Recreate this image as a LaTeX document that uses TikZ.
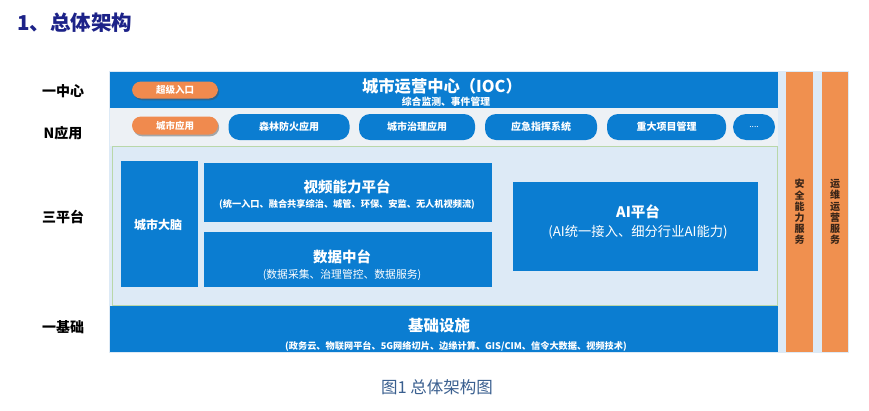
\documentclass[tikz,border=0pt]{standalone}
\usepackage{fontspec}
\setmainfont{Noto Sans CJK SC}
\usetikzlibrary{shadows}
\definecolor{mblue}{HTML}{0B7DD1}
\definecolor{morange}{HTML}{F08A4E}
\definecolor{colorange}{HTML}{F0904F}
\definecolor{lightbg}{HTML}{DDEAF6}
\definecolor{rowbg}{HTML}{EDF1F5}
\definecolor{gborder}{HTML}{B9D7A9}
\definecolor{navy}{HTML}{1C2288}
\definecolor{capblue}{HTML}{3A5F8F}
\definecolor{coltext}{HTML}{3A2518}
\tikzset{
  bluebox/.style={fill=mblue, draw=none, inner sep=0pt},
  bluepill/.style={fill=mblue, draw=none, inner sep=0pt, rounded corners=11pt, text=white,
     font=\fontsize{10}{11}\selectfont\bfseries},
  orangepill/.style={fill=morange, draw=none, inner sep=0pt, rounded corners=9pt, text=white,
     font=\fontsize{9.5}{11}\selectfont\bfseries,
     drop shadow={opacity=0.45, shadow xshift=1.2pt, shadow yshift=-1.8pt, fill=black!70}},
  colbox/.style={fill=colorange, draw=none, inner sep=0pt},
  coltxt/.style={text=coltext, align=center, font=\fontsize{10}{11.2}\selectfont\bfseries},
  lvl/.style={text=black, font=\fontsize{14}{16}\selectfont\bfseries},
  wt/.style={text=white, inner sep=0pt},
}
\begin{document}
\begin{tikzpicture}[x=1pt,y=-1pt]
\useasboundingbox (0,0) rectangle (869,410);
% title
\node[text=navy, anchor=west, font=\fontsize{20.5}{23}\selectfont\bfseries, inner sep=0pt] (title) at (17,23) {1、总体架构};
% level labels
\node[lvl] (l1) at (63,91) {一中心};
\node[lvl] (l2) at (63,133) {N应用};
\node[lvl] (l3) at (63,217) {三平台};
\node[lvl] (l4) at (63,327) {一基础};
% background
\node[fill=lightbg, draw=none, inner sep=0pt, minimum width=740pt, minimum height=282pt] (bg) at (479,212) {};
% N row background
\node[fill=rowbg, draw=none, inner sep=0pt, minimum width=668pt, minimum height=38pt] (nrow) at (444,127) {};
% IOC
\node[bluebox, minimum width=668pt, minimum height=36pt] (ioc) at (444,90) {};
\node[wt, font=\fontsize{16.3}{18}\selectfont\bfseries] (ioct) at (442,86) {城市运营中心（IOC）};
\node[wt, font=\fontsize{9.8}{11}\selectfont\bfseries] (iocs) at (446,101.5) {综合监测、事件管理};
\node[orangepill, minimum width=86pt, minimum height=17pt] (entry) at (175,90) {超级入口};
% N apps
\node[orangepill, minimum width=86pt, minimum height=18pt] (capp) at (175,125.5) {城市应用};
\node[bluepill, minimum width=121pt, minimum height=26pt] (a1) at (289,127) {森林防火应用};
\node[bluepill, minimum width=116pt, minimum height=26pt] (a2) at (417,127) {城市治理应用};
\node[bluepill, minimum width=112pt, minimum height=26pt] (a3) at (541,127) {应急指挥系统};
\node[bluepill, minimum width=119pt, minimum height=26pt] (a4) at (666.5,127) {重大项目管理};
\node[bluepill, minimum width=42pt, minimum height=26pt, rounded corners=13pt, font=\fontsize{8.5}{9}\selectfont] (a5) at (754,127) {....};
% platform area
\node[fill=lightbg, draw=gborder, line width=0.8pt, inner sep=0pt, minimum width=665pt, minimum height=159pt] (plat) at (444.5,225.5) {};
\node[bluebox, minimum width=77pt, minimum height=126pt] (brain) at (159.5,224) {};
\node[wt, font=\fontsize{12}{14}\selectfont\bfseries] (braint) at (158,225) {城市大脑};
\node[bluebox, minimum width=288pt, minimum height=59pt] (video) at (348,192.5) {};
\node[wt, font=\fontsize{14.5}{17}\selectfont\bfseries] (videot) at (347,187) {视频能力平台};
\node[wt, font=\fontsize{9.2}{10}\selectfont\bfseries] (videos) at (347,204) {(统一入口、融合共享综治、城管、环保、安监、无人机视频流)};
\node[bluebox, minimum width=288pt, minimum height=55pt] (data) at (348,259.5) {};
\node[wt, font=\fontsize{14.5}{17}\selectfont\bfseries] (datat) at (342,257) {数据中台};
\node[wt, font=\fontsize{10.8}{13}\selectfont] (datas) at (342,275) {(数据采集、治理管控、数据服务)};
\node[bluebox, minimum width=245pt, minimum height=89pt] (ai) at (635.5,226.5) {};
\node[wt, font=\fontsize{14.5}{17}\selectfont\bfseries] (ait) at (638,212) {AI平台};
\node[wt, font=\fontsize{13.3}{15}\selectfont] (ais) at (638,232) {(AI统一接入、细分行业AI能力)};
% base
\node[bluebox, minimum width=668pt, minimum height=46pt] (base) at (444,329) {};
\node[wt, font=\fontsize{15.5}{18}\selectfont\bfseries] (baset) at (439,326) {基础设施};
\node[wt, font=\fontsize{9.2}{10}\selectfont\bfseries] (bases) at (456,346) {(政务云、物联网平台、5G网络切片、边缘计算、GIS/CIM、信令大数据、视频技术)};
% columns
\node[colbox, minimum width=27pt, minimum height=280pt] (sec) at (799.5,212) {};
\node[coltxt] (sect) at (799.5,212) {安\\全\\能\\力\\服\\务};
\node[colbox, minimum width=26pt, minimum height=280pt] (ops) at (835,212) {};
\node[coltxt] (opst) at (835,212) {运\\维\\运\\营\\服\\务};
% caption
\node[text=capblue, font=\fontsize{16.5}{19}\selectfont] (cap) at (437,387) {图1 总体架构图};
\end{tikzpicture}
\end{document}
